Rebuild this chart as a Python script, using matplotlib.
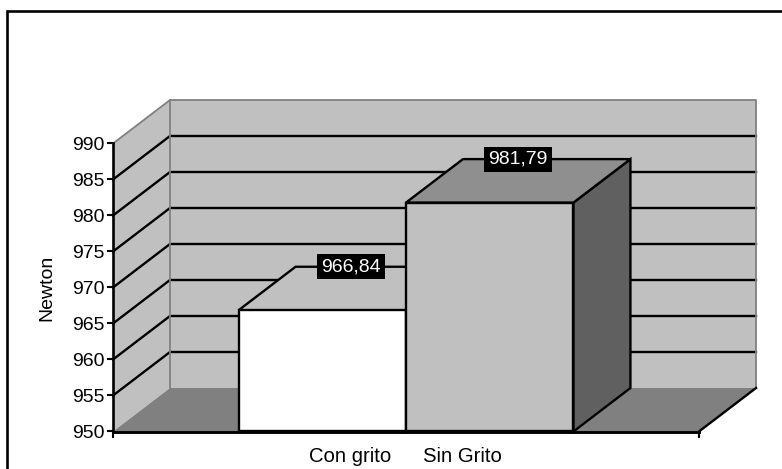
import matplotlib
matplotlib.use('Agg')
import matplotlib.pyplot as plt
from matplotlib.patches import Polygon, Rectangle

plt.rcParams['font.family'] = ['Liberation Sans', 'DejaVu Sans']

# data
categories = ['Con grito', 'Sin Grito']
values = [966.84, 981.79]
value_labels = ['966,84', '981,79']
y_ticks = [950, 955, 960, 965, 970, 975, 980, 985, 990]

W, H = 782, 469
fig = plt.figure(figsize=(W / 100, H / 100), dpi=100)

# axes = the front plane of the 3d box, everything else is drawn off it
left, right, top, bottom = 113, 699, 143.5, 431.5
ax = fig.add_axes([left / W, 1 - bottom / H, (right - left) / W, (bottom - top) / H])
ax.set_ylim(950, 990)
ax.set_xlim(0, 3.5)
ax.patch.set_visible(False)

dx = 57 / ((right - left) / 3.5)   # depth in x units
dy = 43.5 / ((bottom - top) / 40)  # depth in y units
x_end = 3.5
wall = '#c0c0c0'
floor = '#808080'
line_w = 1.7

# walls and floor
ax.add_patch(Polygon([(dx, 950 + dy), (x_end + dx, 950 + dy), (x_end + dx, 990 + dy), (dx, 990 + dy)],
                     fc=wall, ec='none', clip_on=False, zorder=1))
ax.add_patch(Polygon([(0, 950), (dx, 950 + dy), (dx, 990 + dy), (0, 990)],
                     fc=wall, ec='none', clip_on=False, zorder=1))
ax.add_patch(Polygon([(0, 950), (x_end, 950), (x_end + dx, 950 + dy), (dx, 950 + dy)],
                     fc=floor, ec='none', clip_on=False, zorder=1.5))

# gridlines on both walls
for t in y_ticks[1:-1]:
    ax.plot([0, dx, x_end + dx], [t, t + dy, t + dy], color='black', lw=line_w, clip_on=False, zorder=2,
            solid_joinstyle='miter')

# grey wall edges
ax.plot([0, dx, x_end + dx, x_end + dx], [990, 990 + dy, 990 + dy, 950 + dy], color='#808080', lw=1.3,
        clip_on=False, zorder=2.2)
ax.plot([dx, dx], [950 + dy, 990 + dy], color='#808080', lw=1.3, clip_on=False, zorder=2.2)
ax.plot([x_end, x_end + dx], [950, 950 + dy], color='black', lw=line_w, clip_on=False, zorder=2.4)

# bars
bar_w = 1.0
bar_x = [0.75, 1.75]
front = ['white', '#c0c0c0']
top_col = ['#c0c0c0', '#8f8f8f']
side_col = ['#808080', '#606060']
for x, v, fc, tc, sc in zip(bar_x, values, front, top_col, side_col):
    ax.add_patch(Polygon([(x + bar_w, 950), (x + bar_w + dx, 950 + dy), (x + bar_w + dx, v + dy), (x + bar_w, v)],
                         fc=sc, ec='black', lw=line_w, clip_on=False, zorder=3))
    ax.add_patch(Polygon([(x, v), (x + bar_w, v), (x + bar_w + dx, v + dy), (x + dx, v + dy)],
                         fc=tc, ec='black', lw=line_w, clip_on=False, zorder=3))
    ax.add_patch(Rectangle((x, 950), bar_w, v - 950, fc=fc, ec='black', lw=line_w, clip_on=False, zorder=4))

# value labels sit on the back edge of each bar top
for x, v, lab in zip(bar_x, values, value_labels):
    ax.text(x + 0.67, v + dy, lab, color='white', fontsize=14, ha='center', va='center', zorder=6,
            bbox=dict(fc='black', ec='none', pad=3), clip_on=False)

# axis
ax.spines['top'].set_visible(False)
ax.spines['right'].set_visible(False)
ax.spines['left'].set_linewidth(1.9)
ax.spines['bottom'].set_linewidth(2.1)
ax.spines['left'].set_zorder(5)
ax.spines['bottom'].set_zorder(5)
ax.set_yticks(y_ticks)
ax.tick_params(axis='y', length=4.5, width=1.5, labelsize=14, pad=1.5)
ax.set_xticks([0, x_end])
ax.set_xticklabels(['', ''])
ax.tick_params(axis='x', length=4.5, width=1.5)
ax.set_xticks([1.415, 2.09], minor=True)
ax.set_xticklabels(categories, minor=True, fontsize=14.6)
ax.tick_params(axis='x', which='minor', length=0, pad=11)
ax.set_ylabel('Newton', fontsize=14, labelpad=12)

# outer frame of the scanned chart, it runs off the right and bottom of the picture
fig.add_artist(Rectangle((7 / W, -0.1), 1, 1 - 11 / H + 0.1, transform=fig.transFigure,
                         fc='none', ec='black', lw=1.9))

fig.savefig('out.png', dpi=100)
